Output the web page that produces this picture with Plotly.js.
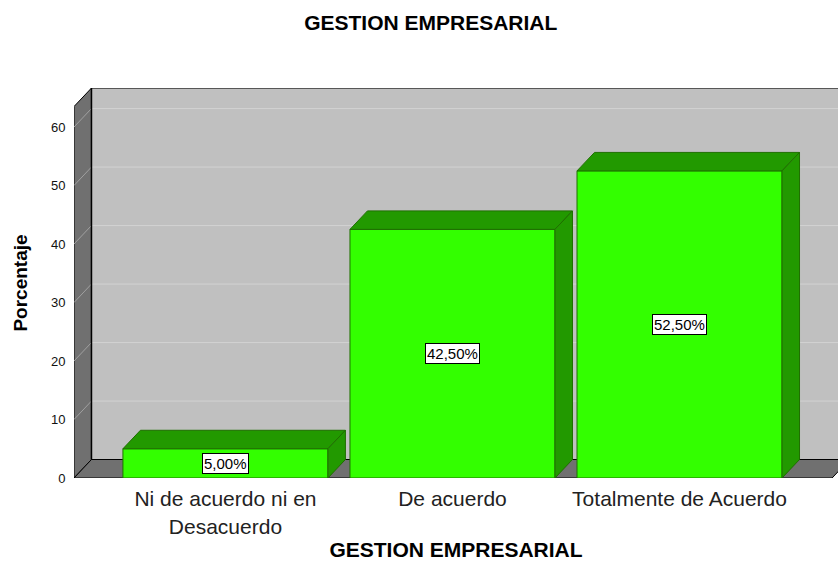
<!DOCTYPE html>
<html>
<head>
<meta charset="utf-8">
<script src="https://cdn.plot.ly/plotly-3.0.1.min.js"></script>
<style>html,body{margin:0;padding:0;background:#fff;}#chart{width:838px;height:561px;}</style>
</head>
<body>
<div id="chart"></div>
<script>
// ---- data ----
const categories = ["Ni de acuerdo ni en<br>Desacuerdo", "De acuerdo", "Totalmente de Acuerdo"];
const values = [5.0, 42.5, 52.5];
const yTicks = [0, 10, 20, 30, 40, 50, 60];
const chartTitle = "GESTION EMPRESARIAL";
const xTitle = "GESTION EMPRESARIAL";
const yTitle = "Porcentaje";

// ---- geometry (data units) ----
const xPos = categories.map((c, i) => i);
const barW = 0.903;
const dx = 0.077;      // depth offset in x units
const dy = 3.16;       // depth offset in y units
const xL = -0.667, xR = 2.672, wallTop = 63.5;

const front = '#33ff00', dark = '#229900', edge = '#1f6f00';
const FONT = 'Arial, Liberation Sans, sans-serif';

const traces = [];
traces.push({
  type: 'bar', x: xPos, y: values, width: barW,
  marker: {color: front, line: {color: edge, width: 1}},
  hoverinfo: 'skip', showlegend: false
});
xPos.forEach((x, i) => {
  const v = values[i], l = x - barW / 2, r = x + barW / 2;
  traces.push({
    type: 'scatter', mode: 'lines', fill: 'toself', fillcolor: dark,
    x: [l, l + dx, r + dx, r, l], y: [v, v + dy, v + dy, v, v],
    line: {color: edge, width: 1}, hoverinfo: 'skip', showlegend: false
  });
  traces.push({
    type: 'scatter', mode: 'lines', fill: 'toself', fillcolor: dark,
    x: [r, r, r + dx, r + dx, r], y: [0, v, v + dy, dy, 0],
    line: {color: edge, width: 1}, hoverinfo: 'skip', showlegend: false
  });
});

const shapes = [];
// back wall
shapes.push({type: 'rect', xref: 'x', yref: 'y', x0: xL + dx, x1: xR + dx + 0.2, y0: dy, y1: wallTop + dy,
  fillcolor: '#c0c0c0', line: {color: '#000', width: 1}, layer: 'below'});
// side wall
shapes.push({type: 'path', xref: 'x', yref: 'y',
  path: `M${xL},0 L${xL},${wallTop} L${xL + dx},${wallTop + dy} L${xL + dx},${dy} Z`,
  fillcolor: '#707070', line: {color: '#000', width: 1}, layer: 'below'});
// gridlines
yTicks.filter(t => t > 0).forEach(t => {
  shapes.push({type: 'line', xref: 'x', yref: 'y', x0: xL + dx, x1: xR + dx + 0.2, y0: t + dy, y1: t + dy,
    line: {color: '#d2d2d2', width: 1}, layer: 'below'});
  shapes.push({type: 'line', xref: 'x', yref: 'y', x0: xL, x1: xL + dx, y0: t, y1: t + dy,
    line: {color: '#a0a0a0', width: 1}, layer: 'below'});
});
// floor
shapes.push({type: 'path', xref: 'x', yref: 'y',
  path: `M${xL},0 L${xR},0 L${xR + dx},${dy} L${xL + dx},${dy} Z`,
  fillcolor: '#707070', line: {color: '#000', width: 1}, layer: 'below'});
// back wall left edge
shapes.push({type: 'line', xref: 'x', yref: 'y', x0: xL + dx, x1: xL + dx, y0: dy, y1: wallTop + dy,
  line: {color: '#000', width: 1.5}, layer: 'below'});

const annotations = xPos.map((x, i) => ({
  x: x, y: values[i] / 2, xref: 'x', yref: 'y', showarrow: false,
  text: values[i].toFixed(2).replace('.', ',') + '%',
  font: {family: FONT, size: 15, color: '#000'},
  bgcolor: '#ffffff', bordercolor: '#000', borderwidth: 1, borderpad: 1
}));

const layout = {
  width: 838, height: 561,
  margin: {l: 74, r: 0, t: 88, b: 83},
  paper_bgcolor: '#fff', plot_bgcolor: 'rgba(0,0,0,0)',
  showlegend: false,
  title: {text: '<b>' + chartTitle + '</b>', x: 0.514, xanchor: 'center', y: 1 - 23 / 561, yanchor: 'middle',
    yref: 'container', font: {family: FONT, size: 21, color: '#000'}},
  xaxis: {
    range: [xL, 2.698], tickvals: xPos, ticktext: categories,
    showgrid: false, zeroline: false, showline: false, ticks: 'outside', ticklen: 2, tickcolor: 'rgba(0,0,0,0)',
    tickfont: {family: FONT, size: 21, color: '#222'},
    title: {text: '<b>' + xTitle + '</b>', standoff: 11, font: {family: FONT, size: 21, color: '#000'}}
  },
  yaxis: {
    range: [0, 66.67], tickvals: yTicks, showgrid: false, zeroline: false, showline: false,
    ticks: 'outside', ticklen: 5, tickcolor: 'rgba(0,0,0,0)',
    tickfont: {family: FONT, size: 13, color: '#111'},
    title: {text: '<b>' + yTitle + '</b>', standoff: 18, font: {family: FONT, size: 19, color: '#000'}}
  },
  shapes: shapes,
  annotations: annotations
};

Plotly.newPlot('chart', traces, layout, {displayModeBar: false, staticPlot: true});
</script>
</body>
</html>
